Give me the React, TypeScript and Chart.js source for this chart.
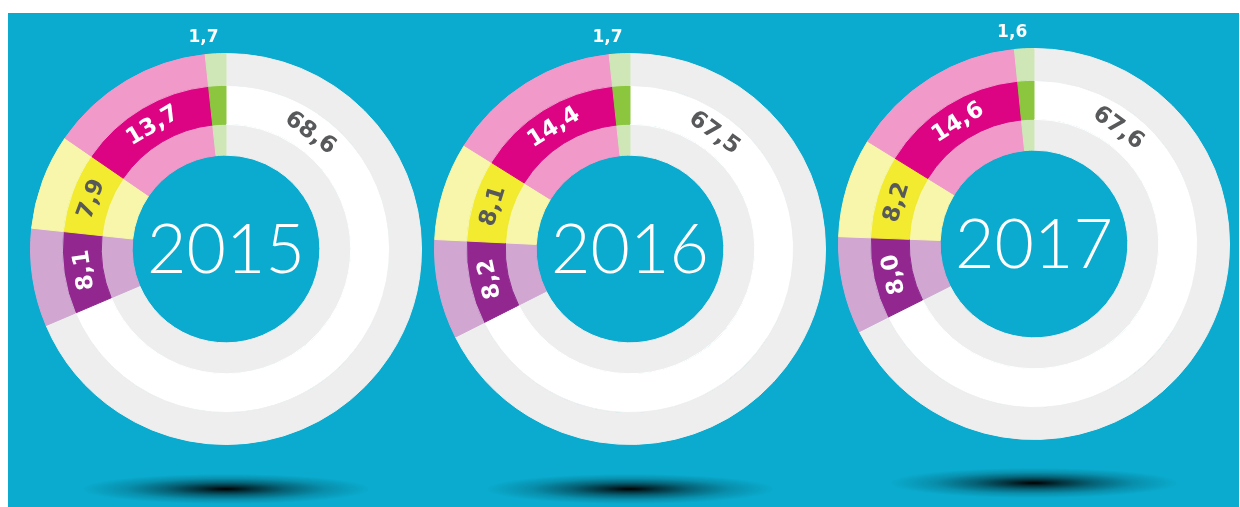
import React, { useEffect, useRef } from "react";
import { Chart, registerables } from "chart.js";

Chart.register(...registerables);

// ---- data ----
const years = ["2015", "2016", "2017"];
const categories = ["rest", "purple", "yellow", "pink", "green"];
const values2015 = [68.6, 8.1, 7.9, 13.7, 1.7];
const values2016 = [67.5, 8.2, 8.1, 14.4, 1.7];
const values2017 = [67.6, 8.0, 8.2, 14.6, 1.6];
const seriesByYear = [values2015, values2016, values2017];

// ---- styles ----
const outerColors = ["#EEEEEE", "#D1A7D2", "#F8F6AA", "#F199C9", "#CFE7B6"];
const middleColors = ["#FFFFFF", "#92278F", "#F2EB2F", "#DC0482", "#8CC63F"];
const labelColors = ["#58595B", "#FFFFFF", "#58595B", "#FFFFFF", "#FFFFFF"];
const BG = "#0AABCE";
const LABEL_FONT = "'DejaVu Sans', 'Open Sans', sans-serif";

const fmt = (v: number) => v.toFixed(1).replace(".", ",");

const labelPlugin = {
  id: "ringLabels",
  afterDraw(chart: any) {
    const ctx = chart.ctx;
    const values: number[] = chart.data.datasets[1].data;
    const outerMeta = chart.getDatasetMeta(0);
    const meta = chart.getDatasetMeta(1);
    ctx.save();
    meta.data.forEach((arc: any, i: number) => {
      const p = arc.getProps(["startAngle", "endAngle", "innerRadius", "outerRadius", "x", "y"], true);
      const text = fmt(values[i]);
      ctx.fillStyle = labelColors[i];
      if (i === values.length - 1) {
        // small segment: label above the ring
        const o = outerMeta.data[i].getProps(["outerRadius"], true).outerRadius;
        const mid = (p.startAngle + p.endAngle) / 2;
        const lx = p.x + o * Math.cos(mid) - 12;
        const ly = p.y - o - 16;
        ctx.font = "bold 17px " + LABEL_FONT;
        ctx.textAlign = "center";
        ctx.textBaseline = "middle";
        ctx.fillText(text, lx, ly);
        return;
      }
      let a: number;
      if (i === 0) {
        a = p.startAngle + (36 * Math.PI) / 180;
      } else {
        a = (p.startAngle + p.endAngle) / 2;
      }
      const r = (p.innerRadius + p.outerRadius) / 2;
      const lx = p.x + r * Math.cos(a);
      const ly = p.y + r * Math.sin(a);
      let theta = a + Math.PI / 2;
      theta = ((theta % (2 * Math.PI)) + 2 * Math.PI) % (2 * Math.PI);
      const rot = theta <= Math.PI ? theta : theta - 2 * Math.PI;
      ctx.save();
      ctx.translate(lx, ly);
      ctx.rotate(rot);
      ctx.font = "bold 23px " + LABEL_FONT;
      ctx.textAlign = "center";
      ctx.textBaseline = "middle";
      ctx.fillText(text, 0, 1);
      ctx.restore();
    });
    // year in the centre
    const c = meta.data[0].getProps(["x", "y"], true);
    ctx.fillStyle = "#FFFFFF";
    ctx.font = "300 68px Lato, 'Open Sans', sans-serif";
    ctx.textAlign = "center";
    ctx.textBaseline = "alphabetic";
    ctx.fillText(chart.options.plugins.yearTitle.text, c.x, c.y + 24);
    ctx.restore();
  },
};

function Donut({ year, values, left, top }: { year: string; values: number[]; left: number; top: number }) {
  const ref = useRef<HTMLCanvasElement>(null);
  useEffect(() => {
    if (!ref.current) return;
    const ring = (colors: string[], weight: number) => ({
      data: values,
      backgroundColor: colors,
      borderColor: colors,
      borderWidth: 1,
      weight,
    });
    const chart = new Chart(ref.current, {
      type: "doughnut",
      data: {
        labels: categories,
        datasets: [ring(outerColors, 32), ring(middleColors, 39), ring(outerColors, 31)],
      },
      options: {
        responsive: false,
        animation: false,
        devicePixelRatio: 1,
        cutout: "48%",
        layout: { padding: 24 },
        events: [],
        plugins: {
          legend: { display: false },
          tooltip: { enabled: false },
          // @ts-ignore
          yearTitle: { text: year },
        },
      } as any,
      plugins: [labelPlugin],
    });
    return () => chart.destroy();
  }, [year, values]);
  return (
    <canvas
      ref={ref}
      width={440}
      height={440}
      style={{ position: "absolute", left, top, width: 440, height: 440 }}
    />
  );
}

const shadow = (cx: number, cy: number): React.CSSProperties => ({
  position: "absolute",
  left: cx - 144,
  top: cy - 15,
  width: 288,
  height: 30,
  background:
    "radial-gradient(closest-side, rgba(0,0,0,1) 0%, rgba(0,0,0,0.72) 18%, rgba(0,0,0,0.42) 42%, rgba(0,0,0,0.16) 70%, rgba(0,0,0,0) 100%)",
});

export default function App() {
  const centers = [
    [226, 249],
    [630, 249],
    [1034, 243.5],
  ];
  const shadows = [
    [226, 489],
    [630, 489],
    [1034, 483],
  ];
  return (
    <div style={{ position: "absolute", left: 0, top: 0, width: 1240, height: 507, background: "#fff", overflow: "hidden" }}>
      <div style={{ position: "absolute", left: 8, top: 13, width: 1231, height: 494, background: BG }} />
      {shadows.map(([x, y], i) => (
        <div key={"s" + i} style={shadow(x, y)} />
      ))}
      {years.map((y, i) => (
        <Donut key={y} year={y} values={seriesByYear[i]} left={centers[i][0] - 220} top={centers[i][1] - 220} />
      ))}
    </div>
  );
}
